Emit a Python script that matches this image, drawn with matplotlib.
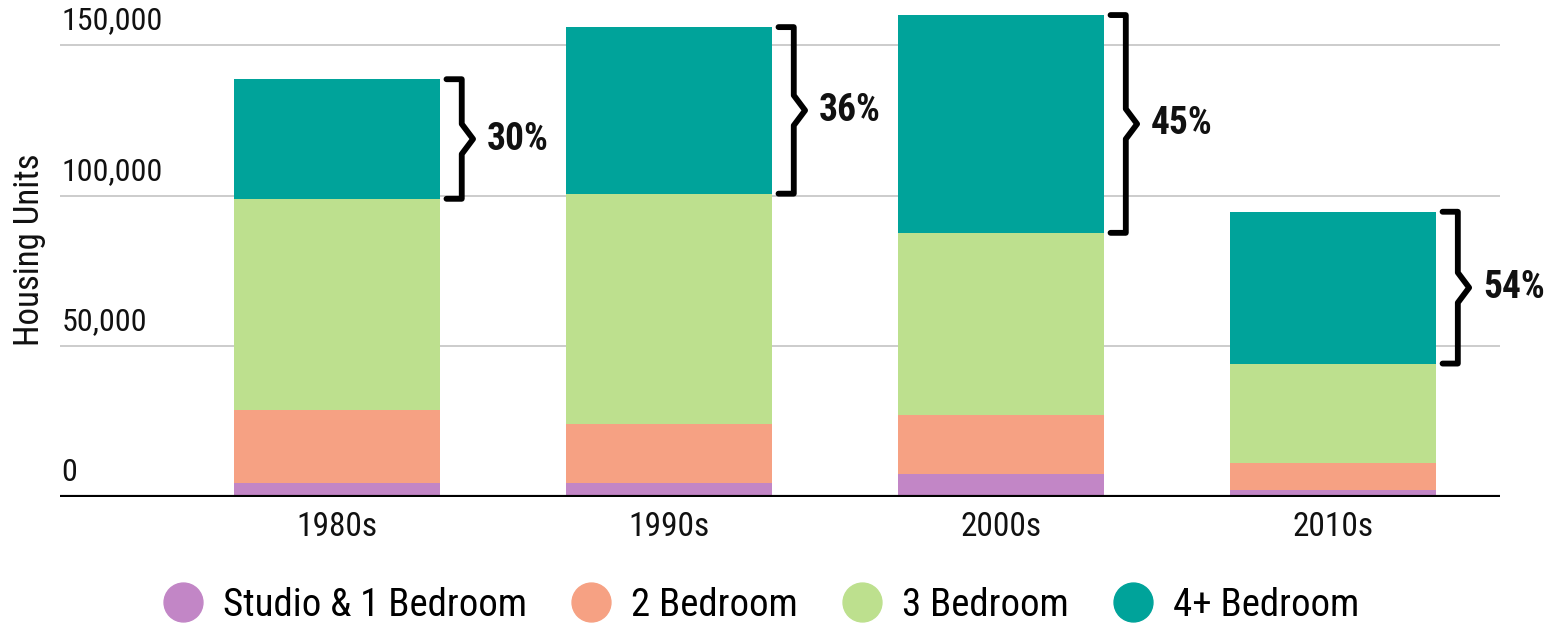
import matplotlib
matplotlib.use("Agg")
import matplotlib.pyplot as plt
from matplotlib.lines import Line2D
import numpy as np

# data (housing units)
decades = ["1980s", "1990s", "2000s", "2010s"]
studio_1br = [4700, 4700, 7700, 2300]
two_br = [24300, 19600, 19600, 9000]
three_br = [70000, 76400, 60400, 33000]
four_plus_br = [39700, 55300, 72300, 50400]
share_labels = ["30%", "36%", "45%", "54%"]
series_names = ["Studio & 1 Bedroom", "2 Bedroom", "3 Bedroom", "4+ Bedroom"]
colors = ["#C286C6", "#F6A183", "#BDE08E", "#00A39A"]
yticks = [0, 50000, 100000, 150000]

plt.rcParams['font.family'] = ['Roboto Condensed', 'Roboto', 'DejaVu Sans']
plt.rcParams['font.stretch'] = 'condensed'

fig = plt.figure(figsize=(15.64, 6.26), dpi=100)
ax = fig.add_axes([60/1564, 129/626, 1440/1564, 497/626])

x = np.arange(len(decades))
w = 0.62
bottom = np.zeros(len(decades))
for vals, c in zip([studio_1br, two_br, three_br, four_plus_br], colors):
    ax.bar(x, vals, w, bottom=bottom, color=c, zorder=2)
    bottom = bottom + np.array(vals)

ax.set_xlim(-0.834, 3.503)
ax.set_ylim(0, 165000)

# gridlines + labels sitting above them
for t in yticks[1:]:
    ax.axhline(t, color="#c8c8c8", lw=1.3, zorder=1)
ax.axhline(0, color="black", lw=3, zorder=3)
for t in yticks:
    ax.text(0.001, t + 3300, f"{t:,}", transform=ax.get_yaxis_transform(),
            ha="left", va="bottom", fontsize=23, color="#111111")

ax.set_yticks([])
ax.set_xticks(x)
ax.set_xticklabels(decades, fontsize=24, color="#111111")
ax.tick_params(axis="x", length=0, pad=10)
for s in ax.spines.values():
    s.set_visible(False)

fig.text(30/1564, 1 - 250/626, "Housing Units", rotation=90, ha="center",
         va="center", fontsize=25, color="#111111")

# braces around the 4+ bedroom segment
base = np.array(studio_1br) + np.array(two_br) + np.array(three_br)
top = base + np.array(four_plus_br)
for i in range(len(decades)):
    x0 = x[i] + w/2 + 0.02
    x1 = x[i] + w/2 + 0.066
    xt = x[i] + w/2 + 0.1
    mid = (base[i] + top[i]) / 2
    bx = [x0, x1, x1, xt, x1, x1, x0]
    by = [top[i], top[i], mid + 5000, mid, mid - 5000, base[i], base[i]]
    ax.plot(bx, by, color="black", lw=4.2, solid_joinstyle="round",
            solid_capstyle="round", zorder=4, clip_on=False)
    ax.text(x[i] + w/2 + 0.142, mid, share_labels[i], ha="left", va="center",
            fontsize=27, fontweight="bold", color="#111111")

handles = [Line2D([], [], marker="o", ls="", markersize=28, color=c) for c in colors]
fig.legend(handles, series_names, loc="center", bbox_to_anchor=(0.487, 0.033),
           ncol=4, frameon=False, fontsize=28, handlelength=1.0,
           handletextpad=0.53, columnspacing=1.15)

fig.savefig("out.png", dpi=100)
